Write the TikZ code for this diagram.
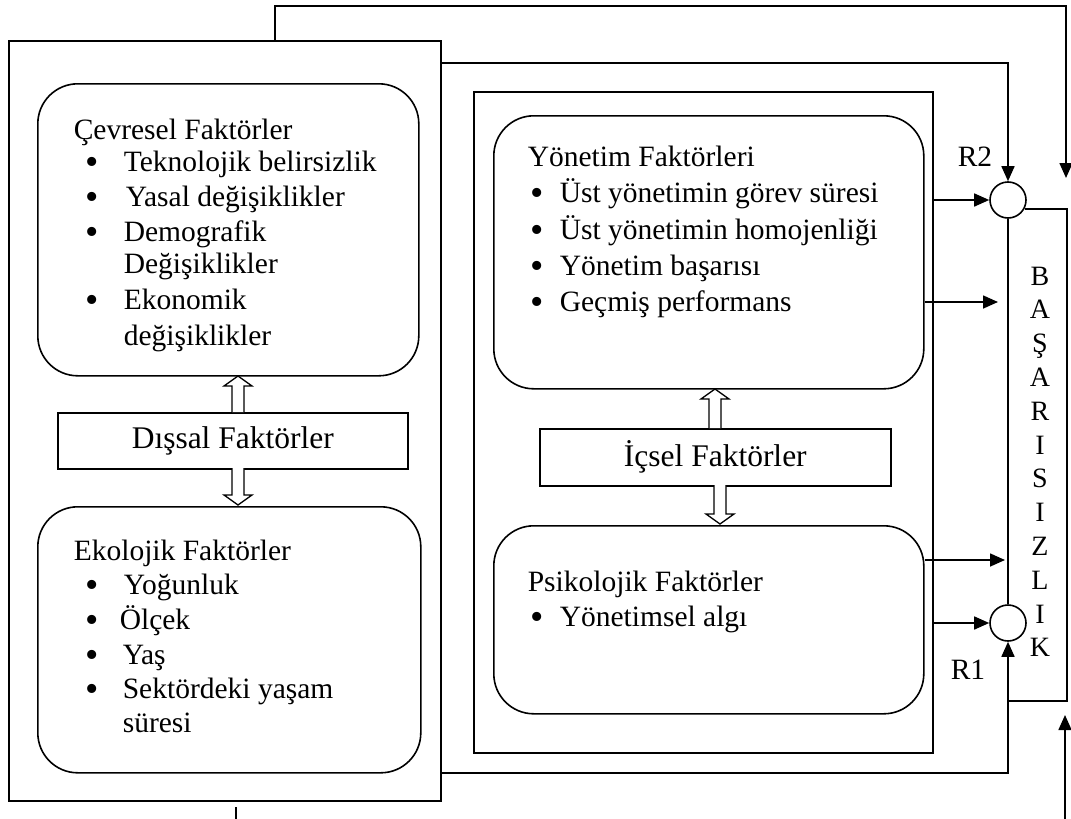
\documentclass[tikz,border=0pt]{standalone}
\usepackage{fontspec}
\setmainfont{Liberation Serif}
\usetikzlibrary{arrows.meta,calc}
\newcommand{\mybul}[1]{\llap{\smash{\raisebox{-3pt}{\fontsize{38}{38}\selectfont •}}\hspace{#1}}}
\newcommand{\hollowarrow}[4]{% x, ytip, ybase, dir (+1 up, -1 down)
  \draw[line width=1.3pt, fill=white, line join=miter]
    ({#1-6},{#3}) -- ({#1-6},{#2+#4*10}) -- ({#1-14},{#2+#4*10}) -- (#1,#2)
    -- ({#1+14},{#2+#4*10}) -- ({#1+6},{#2+#4*10}) -- ({#1+6},{#3});}
\begin{document}
\begin{tikzpicture}[x=1pt,y=-1pt,
  line width=1.6pt,
  box/.style={draw, line width=1.6pt, inner sep=0pt, anchor=north west},
  rbox/.style={box, rounded corners=40pt},
  txt/.style={anchor=base west, inner sep=0pt, font=\fontsize{29.5}{34}\selectfont},
  big/.style={font=\fontsize{31.5}{36}\selectfont},
  letter/.style={anchor=base, inner sep=0pt, font=\fontsize{28}{30}\selectfont},
  arr/.style={-{Triangle[length=15pt,width=13pt]}},
  junc/.style={circle, draw, line width=1.6pt, minimum size=36pt, inner sep=0pt}
]
\useasboundingbox (0,0) rectangle (1071,819);

% main boxes
\node[box, minimum width=432pt, minimum height=760pt] (outerL) at (8,40) {};
\node[rbox, minimum width=381pt, minimum height=292pt] (cev) at (37,83) {};
\node[box, big, minimum width=350pt, minimum height=56pt] (dis) at (57,412) {Dışsal Faktörler};
\node[rbox, minimum width=383pt, minimum height=266pt] (eko) at (37,506) {};

\node[box, minimum width=459pt, minimum height=661pt] (inner) at (473,91) {};
\node[rbox, minimum width=430pt, minimum height=273pt] (yon) at (493,115) {};
\node[box, big, minimum width=351pt, minimum height=57pt] (ic) at (539,428) {İçsel Faktörler};
\node[rbox, minimum width=430pt, minimum height=188pt] (psi) at (493,525) {};

% hollow arrows
\hollowarrow{238}{376}{412}{1}
\hollowarrow{238}{505}{468}{-1}
\hollowarrow{715}{389}{428}{1}
\hollowarrow{720}{524}{485}{-1}

% texts: Cevresel
\node[txt] (c0) at (73,139) {Çevresel Faktörler};
\node[txt] (c1) at (123,171) {\mybul{25pt}Teknolojik belirsizlik};
\node[txt] (c2) at (125,206) {\mybul{27pt}Yasal değişiklikler};
\node[txt] (c3) at (123,241) {\mybul{25pt}Demografik};
\node[txt] (c4) at (123,273) {Değişiklikler};
\node[txt] (c5) at (123,309) {\mybul{25pt}Ekonomik};
\node[txt] (c6) at (123,345) {değişiklikler};

% Ekolojik
\node[txt] (e0) at (73,560) {Ekolojik Faktörler};
\node[txt] (e1) at (123,594) {\mybul{25pt}Yoğunluk};
\node[txt] (e2) at (119,629) {\mybul{21pt}Ölçek};
\node[txt] (e3) at (122,664) {\mybul{24pt}Yaş};
\node[txt] (e4) at (122,698) {\mybul{24pt}Sektördeki yaşam};
\node[txt] (e5) at (122,732) {süresi};

% Yonetim
\node[txt] (y0) at (527,166) {Yönetim Faktörleri};
\node[txt] (y1) at (559,202) {\mybul{16pt}Üst yönetimin görev süresi};
\node[txt] (y2) at (559,239) {\mybul{16pt}Üst yönetimin homojenliği};
\node[txt] (y3) at (559,275) {\mybul{16pt}Yönetim başarısı};
\node[txt] (y4) at (559,311) {\mybul{16pt}Geçmiş performans};

% Psikolojik
\node[txt] (p0) at (527,591) {Psikolojik Faktörler};
\node[txt] (p1) at (559,626) {\mybul{16pt}Yönetimsel algı};

% junctions
\node[junc] (R2c) at (1008,200) {};
\node[junc] (R1c) at (1008,623) {};
\node[txt] (R2) at (957,166) {R2};
\node[txt] (R1) at (950,679) {R1};

% vertical word
\foreach \l [count=\i from 0] in {B,A,Ş,A,R,I,S,I,Z,L,I,K}
  \node[letter] (L\i) at (1040,{285+33.8*\i}) {\l};

% helper coordinates
\coordinate (t1) at (275,6);
\coordinate (tR) at (1066,6);
\coordinate (tEnd) at (1066,178);
\coordinate (s1) at (0,63);
\coordinate (g1) at (998,302);
\coordinate (p1c) at (1005,560);
\coordinate (bx) at (1067,0);
\coordinate (by) at (0,701);
\coordinate (lb) at (0,773);
\coordinate (br0) at (1065,819);
\coordinate (br1) at (1065,715);
\coordinate (tk0) at (236,807);
\coordinate (tk1) at (236,819);

% connectors
\draw[arr] (t1 |- outerL.north) -- (t1) -- (tR) -- (tEnd);
\draw[arr] (s1 -| outerL.east) -- (s1 -| R2c) -- (R2c.north);
\draw[arr] (R2c.west -| inner.east) -- (R2c.west);
\draw[arr] (g1 -| yon.east) -- (g1);
\draw[arr] (p1c -| psi.east) -- (p1c);
\draw[arr] (R1c.west -| inner.east) -- (R1c.west);
\draw (R2c.-28) -- (R2c.-28 -| bx) -- (bx |- by) -- (R1c.south |- by);
\draw (R2c.south) -- (R1c.north);
\draw[arr] (lb -| outerL.east) -- (lb -| R1c) -- (R1c.south);
\draw[arr] (br0) -- (br1);
\draw (tk0) -- (tk1);
\end{tikzpicture}
\end{document}
